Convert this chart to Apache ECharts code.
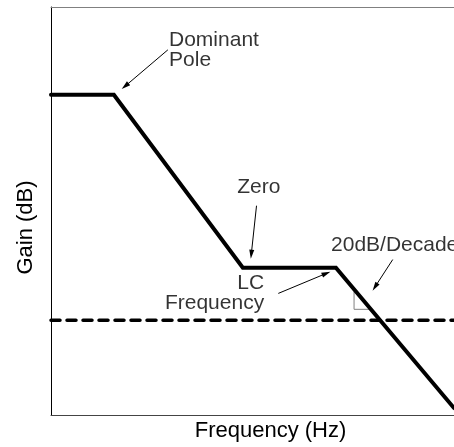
<!DOCTYPE html>
<html>
<head>
<meta charset="utf-8">
<script src="https://cdn.jsdelivr.net/npm/echarts@6/dist/echarts.min.js"></script>
<style>
  html, body { margin: 0; padding: 0; background: #fff; }
  #chart { width: 454px; height: 447px; }
</style>
</head>
<body>
<div id="chart"></div>
<script>
// Axis ranges (arbitrary units: log-frequency position and gain level)
const xRange = [0, 100];
const yRange = [0, 100];

// Asymptotic gain curve (corner points)
const gainX = [0, 15.6, 47.6, 70.7, 100];
const gainY = [78.5, 78.5, 36.1, 36.1, 1.7];

// Dashed reference (0 dB crossover) level
const refX = [0, 100];
const refY = [23.2, 23.2];

// Small right-angle slope marker
const slopeMarkerX = [75.2, 75.2, 79];
const slopeMarkerY = [30.2, 25.9, 25.9];

// Annotations
const annotationTexts = ['Dominant\nPole', 'Zero', 'LC\nFrequency', '20dB/Decade'];
const annotationX = [29.3, 46.2, 52.9, 69.5];
const annotationY = [94.4, 58.2, 34.8, 44.1];

// Annotation arrows (from text toward the curve)
const arrowFromX = [29.0, 51.0, 56.4, 84.8];
const arrowFromY = [89.5, 51.3, 29.8, 38.1];
const arrowToX = [18.4, 49.7, 68.3, 80.4];
const arrowToY = [80.6, 39.4, 34.7, 31.4];

const xTitle = 'Frequency (Hz)';
const yTitle = 'Gain (dB)';

const FONT = '"Liberation Sans", Arial, Helvetica, sans-serif';
const annotationAlign = ['left', 'left', 'right', 'left'];

const zip = (a, b) => a.map((v, i) => [v, b[i]]);

const chart = echarts.init(document.getElementById('chart'), null, { renderer: 'canvas' });

chart.setOption({
  animation: false,
  backgroundColor: '#ffffff',
  grid: { left: 51, right: 0, top: 7, bottom: 30 },
  xAxis: [{
    type: 'value', min: xRange[0], max: xRange[1], position: 'bottom',
    name: xTitle, nameLocation: 'middle', nameGap: 5,
    nameTextStyle: { fontFamily: FONT, fontSize: 22, color: '#000', lineHeight: 22, padding: [0, 0, 0, 36] },
    axisLine: { show: true, onZero: false, lineStyle: { color: '#444', width: 1 } },
    axisTick: { show: false }, axisLabel: { show: false }, splitLine: { show: false }
  }, {
    type: 'value', min: xRange[0], max: xRange[1], position: 'top',
    axisLine: { show: true, onZero: false, lineStyle: { color: '#808080', width: 1 } },
    axisTick: { show: false }, axisLabel: { show: false }, splitLine: { show: false }
  }],
  yAxis: {
    type: 'value', min: yRange[0], max: yRange[1],
    name: yTitle, nameLocation: 'middle', nameGap: 14,
    nameTextStyle: { fontFamily: FONT, fontSize: 22, color: '#000', lineHeight: 22, padding: [0, 33, 0, 0] },
    axisLine: { show: true, onZero: false, lineStyle: { color: '#000', width: 1 } },
    axisTick: { show: false }, axisLabel: { show: false }, splitLine: { show: false }
  },
  series: [
    {
      type: 'line', name: 'Reference', data: zip(refX, refY), symbol: 'none', silent: true, clip: false,
      lineStyle: { color: '#000', width: 3.5, type: [9, 7], cap: 'round' }
    },
    {
      type: 'line', name: 'Slope marker', data: zip(slopeMarkerX, slopeMarkerY), symbol: 'none', silent: true,
      lineStyle: { color: '#808080', width: 1 }
    },
    {
      type: 'line', name: 'Gain', data: zip(gainX, gainY), symbol: 'none', silent: true, clip: false,
      lineStyle: { color: '#000', width: 4, cap: 'round', join: 'miter' }
    },
    {
      type: 'lines', coordinateSystem: 'cartesian2d', silent: true,
      symbol: ['none', 'triangle'], symbolSize: [1, [5, 9]],
      lineStyle: { color: '#000', width: 1, opacity: 1 },
      data: arrowFromX.map((x, i) => ({ coords: [[x, arrowFromY[i]], [arrowToX[i], arrowToY[i]]] }))
    },
    {
      type: 'scatter', name: 'Annotations', silent: true, symbolSize: 0.1,
      itemStyle: { color: 'transparent' },
      data: annotationTexts.map((t, i) => ({
        name: t, value: [annotationX[i], annotationY[i]],
        label: {
          show: true, formatter: '{b}', position: [0, 0],
          align: annotationAlign[i], verticalAlign: 'top',
          fontFamily: FONT, fontSize: 21, lineHeight: 20, color: '#000'
        }
      }))
    }
  ]
});
</script>
</body>
</html>
